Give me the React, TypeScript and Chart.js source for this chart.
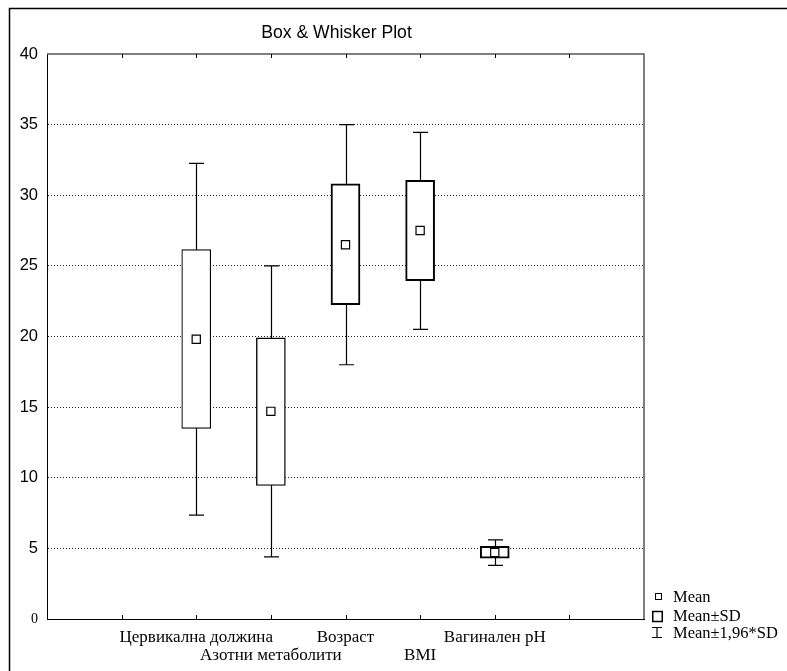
import React, { useEffect, useRef } from 'react';
import { Chart, registerables } from 'chart.js';

Chart.register(...registerables);

// ---- data ----
const title = 'Box & Whisker Plot';
const categories = ['Цервикална должина', 'Азотни метаболити', 'Возраст', 'BMI', 'Вагинален pH'];
const means = [19.8, 14.7, 26.5, 27.5, 4.7];
const sdLow = [13.5, 9.45, 22.25, 23.95, 4.3];
const sdHigh = [26.15, 19.9, 30.8, 31.05, 5.15];
const ciLow = [7.35, 4.4, 18.0, 20.5, 3.8];
const ciHigh = [32.25, 25.0, 35.0, 34.45, 5.6];
const yMin = 0;
const yMax = 40;
const yStep = 5;
const legendLabels = ['Mean', 'Mean±SD', 'Mean±1,96*SD'];
const slotCount = 9; // x axis positions 0..8, categories occupy 2..6
const firstSlot = 2;

// ---- styles ----
const boxLineWidths = [1.2, 1.4, 2, 2, 2];
const SANS = "'Liberation Sans', Arial, sans-serif";
const SERIF = "'Liberation Serif', 'Times New Roman', serif";

const slotLabels = Array.from({ length: slotCount }, (_, i) => categories[i - firstSlot] ?? '');
const slotData = (arr: any[]) => Array.from({ length: slotCount }, (_, i) => {
  const k = i - firstSlot;
  return k >= 0 && k < arr.length ? arr[k] : null;
});

const whiskerPlugin = {
  id: 'whiskers',
  beforeDatasetsDraw(chart: any) {
    const { ctx } = chart;
    const xs = chart.scales.x;
    const ys = chart.scales.y;
    ctx.save();
    ctx.strokeStyle = '#000';
    ctx.lineWidth = 1.2;
    categories.forEach((_, k) => {
      const x = Math.round(xs.getPixelForValue(k + firstSlot)) + 0.5;
      const yTop = ys.getPixelForValue(ciHigh[k]);
      const yBot = ys.getPixelForValue(ciLow[k]);
      const cap = 7.5;
      ctx.beginPath();
      ctx.moveTo(x, yTop);
      ctx.lineTo(x, yBot);
      ctx.moveTo(x - cap, yTop);
      ctx.lineTo(x + cap, yTop);
      ctx.moveTo(x - cap, yBot);
      ctx.lineTo(x + cap, yBot);
      ctx.stroke();
    });
    ctx.restore();
  },
};

const decorPlugin = {
  id: 'decor',
  afterDraw(chart: any) {
    const { ctx, chartArea } = chart;
    const xs = chart.scales.x;
    ctx.save();
    // top & right of plot frame
    ctx.strokeStyle = '#555';
    ctx.lineWidth = 1.5;
    ctx.beginPath();
    ctx.moveTo(chartArea.left, chartArea.top);
    ctx.lineTo(chartArea.right, chartArea.top);
    ctx.lineTo(chartArea.right, chartArea.bottom);
    ctx.stroke();
    // inner ticks on top and bottom
    ctx.strokeStyle = '#000';
    ctx.lineWidth = 1;
    for (let i = 1; i < slotCount - 1; i++) {
      const x = Math.round(xs.getPixelForValue(i)) + 0.5;
      ctx.beginPath();
      ctx.moveTo(x, chartArea.bottom);
      ctx.lineTo(x, chartArea.bottom - 4);
      ctx.moveTo(x, chartArea.top);
      ctx.lineTo(x, chartArea.top + 4);
      ctx.stroke();
    }
    // outer frame (top & left visible)
    ctx.lineWidth = 1.5;
    ctx.beginPath();
    ctx.moveTo(9.5, chart.height);
    ctx.lineTo(9.5, 8.5);
    ctx.lineTo(chart.width, 8.5);
    ctx.stroke();
    // title
    ctx.fillStyle = '#000';
    ctx.font = `17.6px ${SANS}`;
    ctx.textAlign = 'center';
    ctx.textBaseline = 'alphabetic';
    ctx.fillText(title, 336.5, 37.8);
    // legend
    ctx.textAlign = 'left';
    ctx.font = `16.5px ${SERIF}`;
    const tx = 673;
    // Mean
    ctx.lineWidth = 1;
    ctx.strokeRect(655.5, 593.5, 6, 6);
    ctx.fillText(legendLabels[0], tx, 602);
    // Mean±SD
    ctx.lineWidth = 1.5;
    ctx.strokeRect(652.75, 611.5, 9.5, 10);
    ctx.fillText(legendLabels[1], tx, 620.7);
    // Mean±1,96*SD
    ctx.lineWidth = 1.2;
    ctx.beginPath();
    ctx.moveTo(652, 627.5);
    ctx.lineTo(662, 627.5);
    ctx.moveTo(657, 627.5);
    ctx.lineTo(657, 637.5);
    ctx.moveTo(652, 637.5);
    ctx.lineTo(662, 637.5);
    ctx.stroke();
    ctx.fillText(legendLabels[2], tx, 637.5);
    ctx.restore();
  },
};

export default function App() {
  const ref = useRef<HTMLCanvasElement | null>(null);
  useEffect(() => {
    if (!ref.current) return;
    const chart = new Chart(ref.current, {
      type: 'bar',
      data: {
        labels: slotLabels,
        datasets: [
          {
            type: 'line',
            data: slotData(means),
            showLine: false,
            pointStyle: 'rect',
            pointRadius: 5.8,
            pointHoverRadius: 5.8,
            pointBackgroundColor: '#fff',
            pointBorderColor: '#000',
            pointBorderWidth: 1.2,
            order: 0,
          } as any,
          {
            type: 'bar',
            data: slotData(categories.map((_, k) => [sdLow[k], sdHigh[k]])),
            backgroundColor: '#fff',
            borderColor: '#000',
            borderWidth: (c: any) => boxLineWidths[c.dataIndex - firstSlot] ?? 1,
            borderSkipped: false,
            barThickness: 29,
            grouped: false,
            order: 1,
          } as any,
        ],
      },
      options: {
        animation: false,
        responsive: false,
        events: [],
        layout: { padding: { left: 0, right: 143, top: 54, bottom: 0 } },
        plugins: {
          legend: { display: false },
          tooltip: { enabled: false },
          title: { display: false },
        },
        scales: {
          x: {
            type: 'category',
            offset: false,
            grid: { display: false, drawTicks: false },
            border: { display: true, color: '#000', width: 1 },
            afterFit: (s: any) => { s.height = 52; },
            ticks: {
              autoSkip: false,
              maxRotation: 0,
              minRotation: 0,
              padding: 10,
              color: '#000',
              font: { family: SERIF, size: 17, lineHeight: 1.04 },
              callback: (_v: any, index: number) => {
                const name = slotLabels[index];
                if (!name) return '';
                const k = index - firstSlot;
                return k % 2 === 0 ? [name, ''] : ['', name];
              },
            },
          },
          y: {
            min: yMin,
            max: yMax,
            afterFit: (s: any) => { s.width = 47; },
            border: { display: true, color: '#000', width: 1, dash: [1, 2] },
            grid: {
              drawTicks: false,
              color: (c: any) => (c.tick && (c.tick.value === yMin || c.tick.value === yMax) ? 'rgba(0,0,0,0)' : '#222'),
              lineWidth: 1,
            },
            ticks: {
              stepSize: yStep,
              padding: 9,
              color: '#000',
              font: (c: any) => (c.tick && c.tick.value === 0
                ? { family: SERIF, size: 14 }
                : { family: SANS, size: 16.5 }),
            },
          } as any,
        },
      } as any,
      plugins: [whiskerPlugin, decorPlugin],
    });
    return () => chart.destroy();
  }, []);
  return (
    <div style={{ position: 'fixed', left: 0, top: 0, width: 787, height: 671, background: '#fff' }}>
      <canvas ref={ref} width={787} height={671} style={{ display: 'block' }} />
    </div>
  );
}
